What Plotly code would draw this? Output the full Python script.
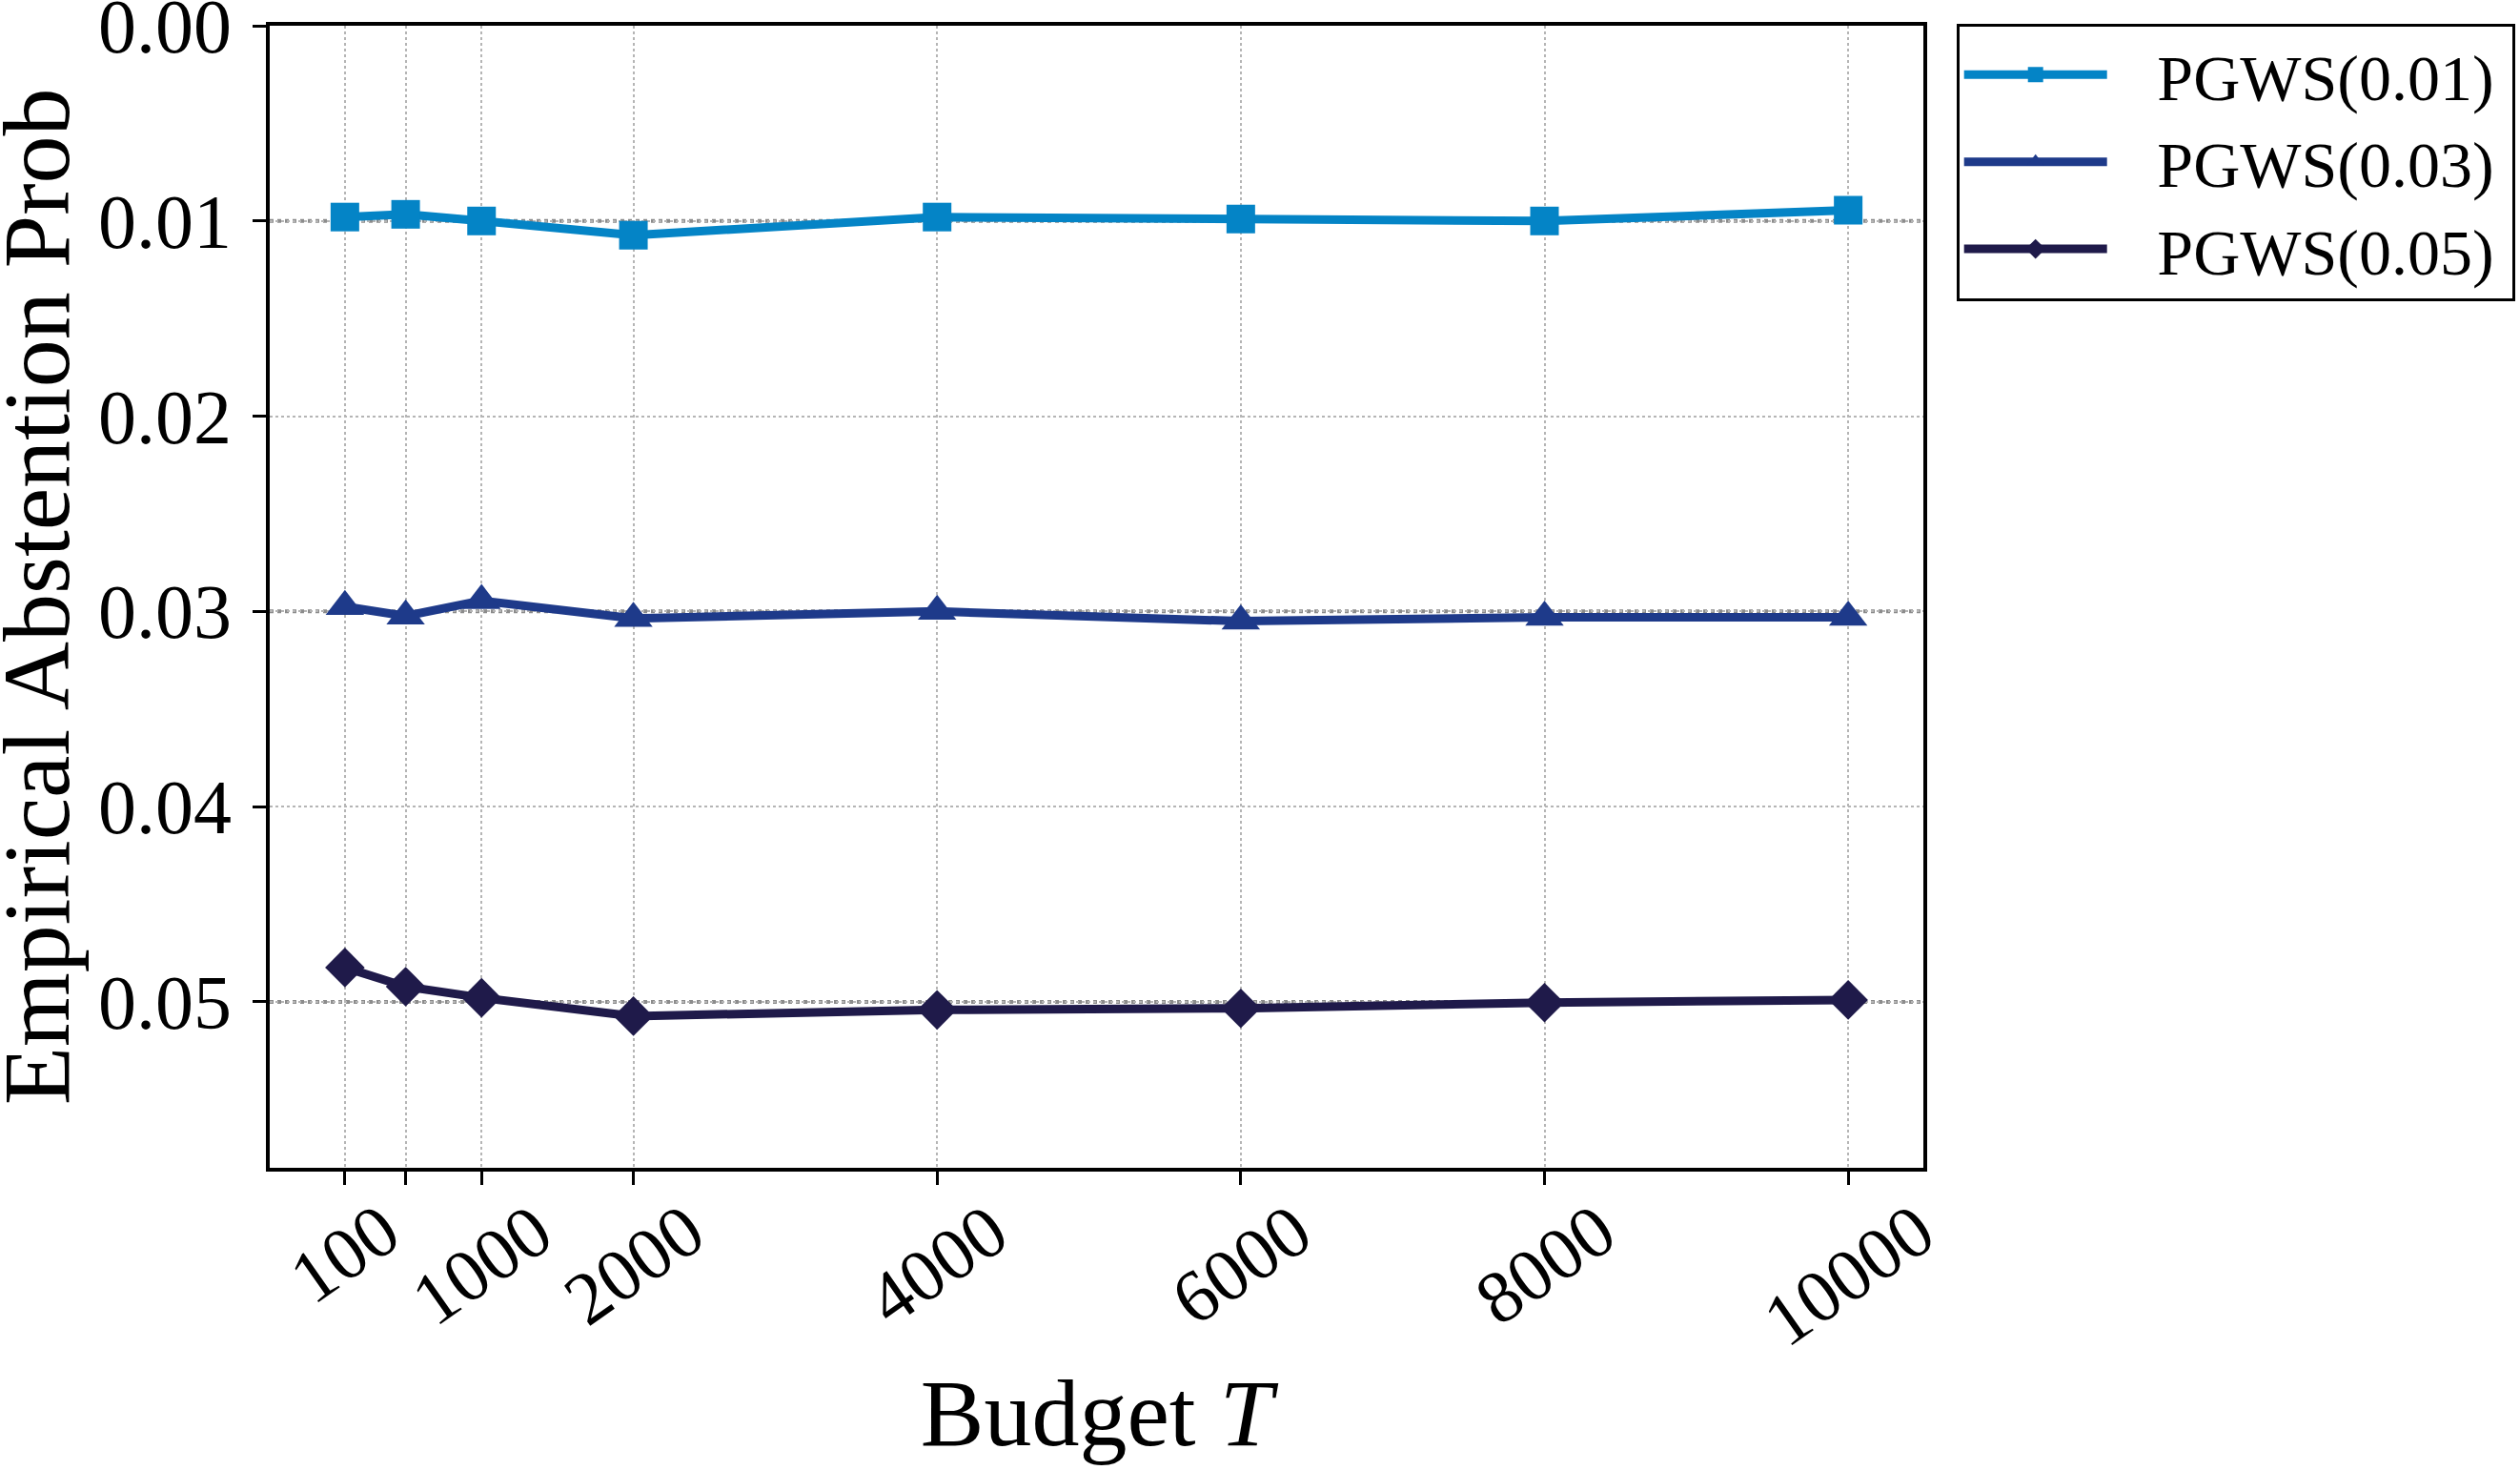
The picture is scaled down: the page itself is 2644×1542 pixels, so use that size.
import plotly.graph_objects as go

budgets = [100, 500, 1000, 2000, 4000, 6000, 8000, 10000]
tick_text = ["100", "", "1000", "2000", "4000", "6000", "8000", "10000"]
y_ticks = [0.0, 0.01, 0.02, 0.03, 0.04, 0.05]

names = ["PGWS(0.01)", "PGWS(0.03)", "PGWS(0.05)"]
targets = [0.01, 0.03, 0.05]
abst_001 = [0.0098, 0.00966, 0.0100, 0.01073, 0.0098, 0.0099, 0.0100, 0.00945]
abst_003 = [0.02975, 0.03024, 0.02945, 0.03036, 0.0300, 0.0305, 0.0303, 0.0303]
abst_005 = [0.04824, 0.04922, 0.04979, 0.05073, 0.05041, 0.05033, 0.05004, 0.0499]

colors = ["#0484C6", "#1E3A8A", "#1F1A4A"]
symbols = ["square", "triangle-up", "diamond"]
sizes = [30, 35, 32]
series = [abst_001, abst_003, abst_005]

FONT = "Liberation Serif, Times New Roman, serif"
LEAD = "\u2002\u2009"
TRAIL = "\u2009"

W, H = 2644, 1542
L, R, T, B = 283, 2644 - 2018, 27, 1542 - 1225
PW = W - L - R

fig = go.Figure()
for name, ys, c, s, sz in zip(names, series, colors, symbols, sizes):
    fig.add_trace(go.Scatter(
        x=budgets, y=ys, name=LEAD + name + TRAIL, mode="lines+markers",
        line=dict(color=c, width=9),
        marker=dict(symbol=s, size=sz, color=c, line=dict(width=0)),
    ))

for t in targets:
    fig.add_shape(type="line", xref="paper", x0=0, x1=1, yref="y", y0=t, y1=t,
                  line=dict(color="#8c8c8c", width=4, dash="dot"), layer="below")

# x tick labels, centred under ticks and rotated (matplotlib-like)
for xv, lab in zip(budgets, tick_text):
    if lab:
        fig.add_annotation(x=xv, xref="x", y=0, yref="paper", text=lab,
                           showarrow=False, textangle=-35, xanchor="center",
                           yanchor="top", yshift=-18,
                           font=dict(family=FONT, size=78, color="black"))

# y axis title
fig.add_annotation(x=(38 - L) / PW, xref="paper", y=0.5, yref="paper",
                   text="Empirical Abstention Prob", showarrow=False,
                   textangle=-90, xanchor="center", yanchor="middle",
                   font=dict(family=FONT, size=100, color="black"))

fig.update_layout(
    width=W, height=H,
    margin=dict(l=L, r=R, t=T, b=B, pad=0, autoexpand=False),
    paper_bgcolor="white", plot_bgcolor="white",
    font=dict(family=FONT, color="black", size=80),
    showlegend=True,
    legend=dict(
        x=1.02, y=1.002, xanchor="left", yanchor="top",
        bordercolor="black", borderwidth=3, bgcolor="white",
        font=dict(family=FONT, size=68, color="black"),
        itemwidth=150, tracegroupgap=0,
    ),
)

fig.update_xaxes(
    range=[-395, 10495], tickmode="array", tickvals=budgets, showticklabels=False,
    ticks="outside", ticklen=14, tickwidth=3, tickcolor="black",
    showline=True, linecolor="black", linewidth=4, mirror=True,
    showgrid=True, gridcolor="#b5b5b5", gridwidth=2, griddash="dot",
    zeroline=False, automargin=False,
    title=dict(text="Budget <i>T</i>", font=dict(family=FONT, size=100), standoff=205),
)
fig.update_yaxes(
    range=[0.0585, -1e-7], tickmode="array", tickvals=y_ticks,
    ticktext=[f"{v:.2f}" for v in y_ticks],
    ticks="outside", ticklen=14, tickwidth=3, tickcolor="black",
    ticklabelstandoff=6, ticklabeloverflow="allow",
    showline=True, linecolor="black", linewidth=4, mirror=True,
    showgrid=True, gridcolor="#b5b5b5", gridwidth=2, griddash="dot",
    zeroline=False, automargin=False,
    tickfont=dict(family=FONT, size=80),
)

fig.write_html("out.html")
